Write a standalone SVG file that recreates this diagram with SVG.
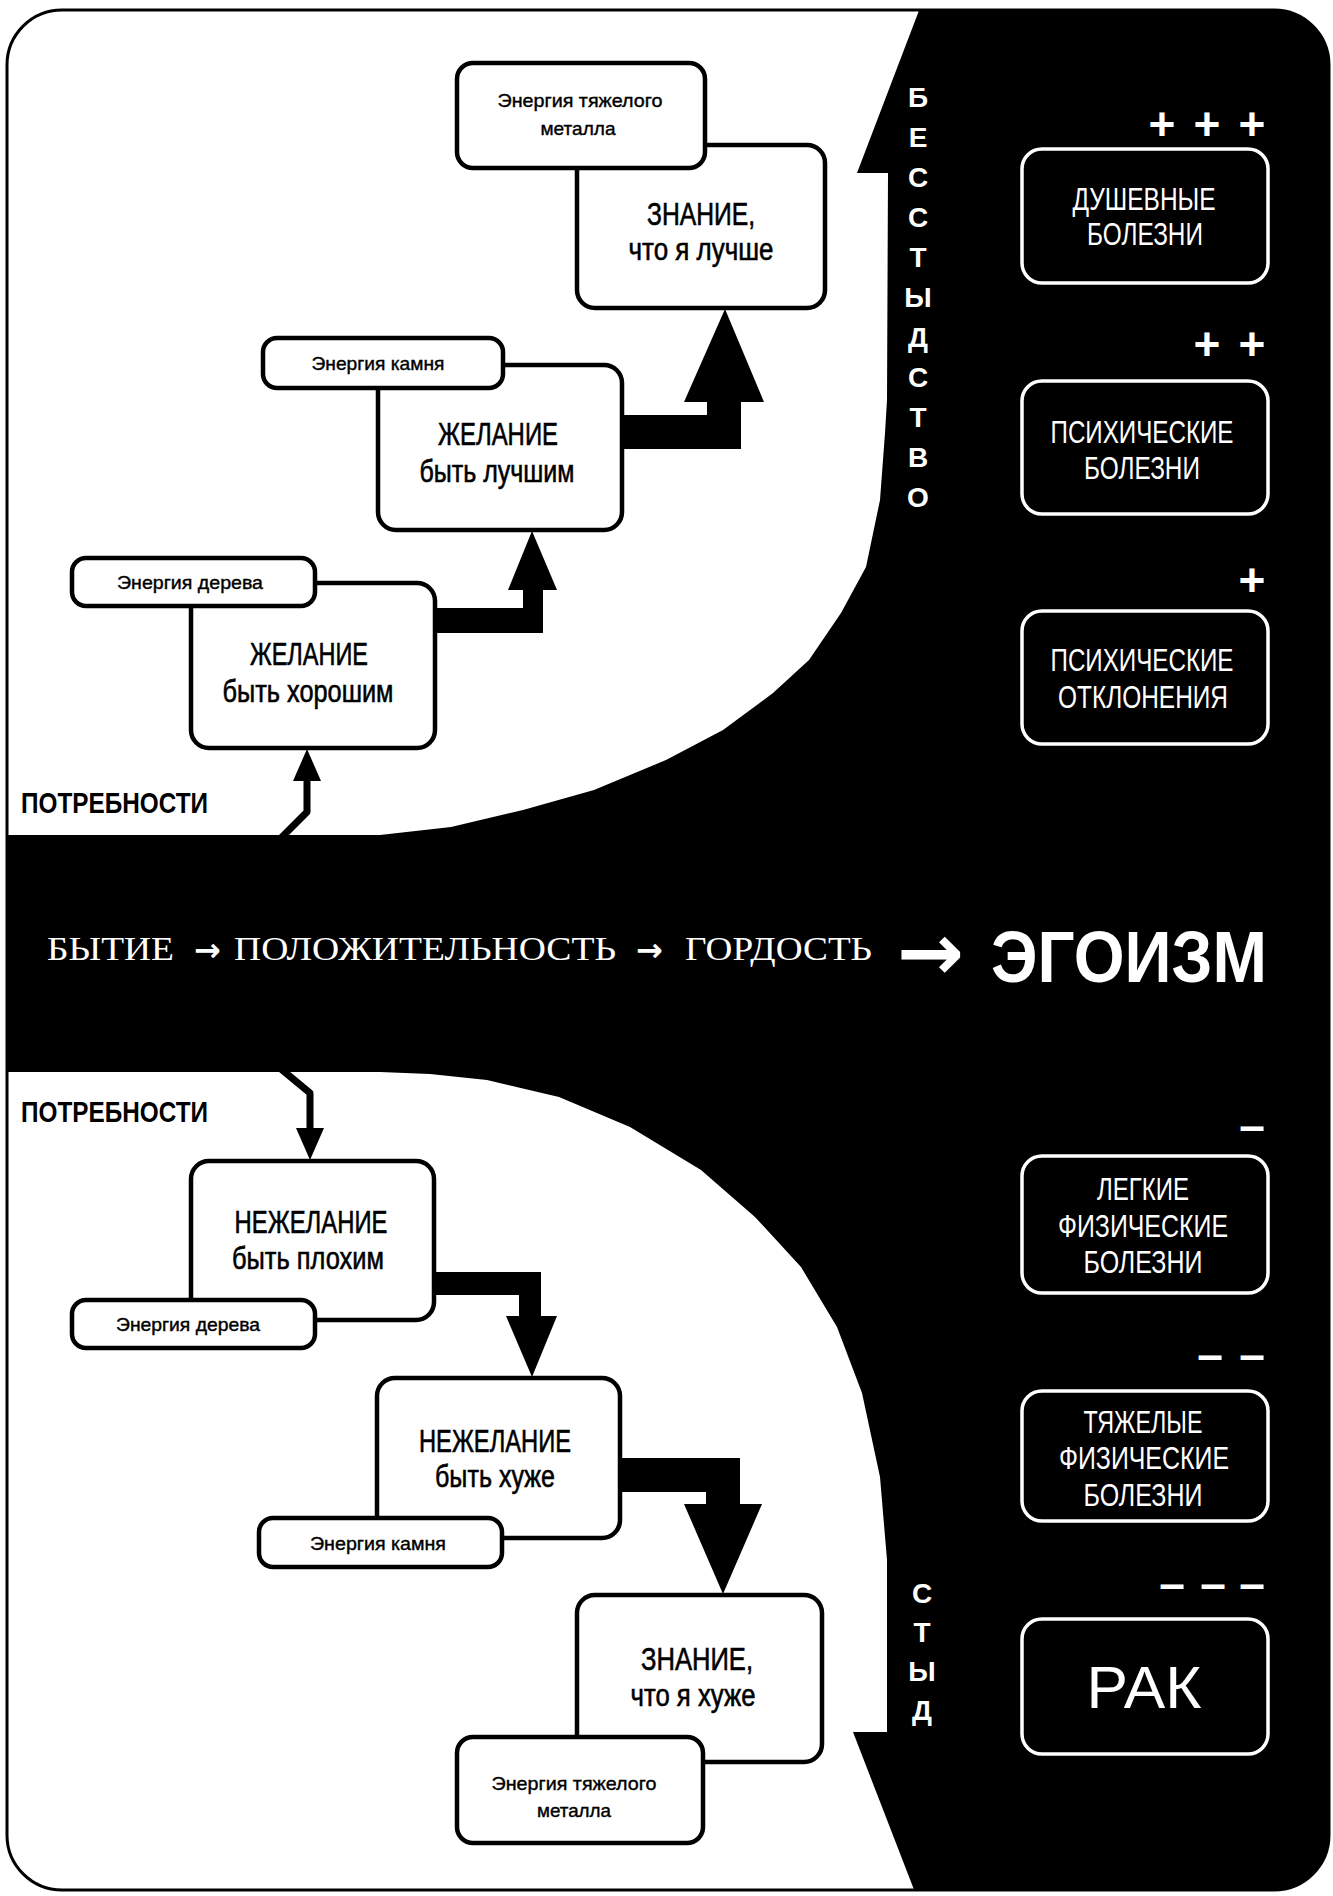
<svg xmlns="http://www.w3.org/2000/svg" width="1333" height="1896" viewBox="0 0 1333 1896">
<defs>
<clipPath id="frameClip"><rect x="7" y="10" width="1322" height="1880" rx="55"/></clipPath>
<style>
text{font-family:"Liberation Sans",Arial,sans-serif}
.box{fill:#fff;stroke:#000;stroke-width:4.5}
.dbox{fill:#000;stroke:#fff;stroke-width:3.5}
.bt{font-size:31px;text-anchor:middle;fill:#000;stroke:#000;stroke-width:0.6}
.sm{font-size:19px;text-anchor:middle;fill:#000;stroke:#000;stroke-width:0.4}
.wt{font-size:31px;text-anchor:middle;fill:#fff}
.vt{font-size:28px;font-weight:bold;text-anchor:middle;fill:#fff}
.lbl{font-size:30px;font-weight:bold;fill:#000}
.sign{font-size:46px;font-weight:bold;text-anchor:middle;fill:#fff}
.serif{font-family:"Liberation Serif","Times New Roman",serif;font-size:33px;fill:#fff}
.arr{font-family:"DejaVu Sans",sans-serif;fill:#fff;font-weight:bold}
.thick{fill:#000}
.thin{fill:none;stroke:#000;stroke-width:7;stroke-linejoin:round}
</style>
</defs>
<rect x="0" y="0" width="1333" height="1896" fill="#fff"/>
<g id="background">
<rect x="7" y="10" width="1322" height="1880" rx="55" fill="#fff"/>
<path clip-path="url(#frameClip)" fill="#000" d="M923,0 L1340,0 L1340,1900 L918,1900 L853,1732 L887,1732 L887,1560 L880,1477 L862,1393 L837,1327 L801,1267 L755,1217 L701,1170 L630,1127 L559,1097 L487,1080 L430,1074 L380,1072 L0,1072 L0,835 L380,835 L451,827 L523,810 L594,790 L666,760 L723,730 L773,693 L809,660 L841,613 L866,567 L880,500 L885,433 L887,400 L888,173 L857,173 Z"/>
<rect x="7" y="10" width="1322" height="1880" rx="55" fill="none" stroke="#000" stroke-width="3"/>
</g>

<g id="connectors">
<polygon class="thick" points="433,608 523,608 523,590 508,590 532,531 557,590 543,590 543,633 433,633"/>
<polygon class="thick" points="620,415 707,415 707,402 684,402 725,309 764,402 741,402 741,449 620,449"/>
<polygon class="thick" points="432,1272 541,1272 541,1316 557,1316 532,1377 506,1316 519,1316 519,1295 432,1295"/>
<polygon class="thick" points="618,1458 740,1458 740,1504 762,1504 723,1594 684,1504 706,1504 706,1492 618,1492"/>
<polyline class="thin" points="281,838 307,812 307,778"/>
<polygon class="thick" points="293,781 321,781 307,749"/>
<polyline class="thin" points="281,1069 310,1093 310,1130"/>
<polygon class="thick" points="296,1128 324,1128 310,1160"/>
</g>

<g id="n-znanie-luchshe">
<rect class="box" x="577" y="145" width="248" height="163" rx="18"/>
<text class="bt" x="701" y="225" textLength="108" lengthAdjust="spacingAndGlyphs">ЗНАНИЕ,</text>
<text class="bt" x="701" y="260" textLength="145" lengthAdjust="spacingAndGlyphs">что я лучше</text>
</g>
<g id="n-energy-metal-top">
<rect class="box" x="457" y="63" width="248" height="105" rx="16"/>
<text class="sm" x="580" y="107" textLength="165" lengthAdjust="spacingAndGlyphs">Энергия тяжелого</text>
<text class="sm" x="578" y="135" textLength="75" lengthAdjust="spacingAndGlyphs">металла</text>
</g>
<g id="n-zhelanie-luchshim">
<rect class="box" x="378" y="365" width="244" height="165" rx="18"/>
<text class="bt" x="498" y="445" textLength="120" lengthAdjust="spacingAndGlyphs">ЖЕЛАНИЕ</text>
<text class="bt" x="497" y="482" textLength="155" lengthAdjust="spacingAndGlyphs">быть лучшим</text>
</g>
<g id="n-energy-stone-top">
<rect class="box" x="263" y="338" width="240" height="50" rx="14"/>
<text class="sm" x="378" y="370" textLength="133" lengthAdjust="spacingAndGlyphs">Энергия камня</text>
</g>
<g id="n-zhelanie-horoshim">
<rect class="box" x="191" y="583" width="244" height="165" rx="18"/>
<text class="bt" x="309" y="665" textLength="118" lengthAdjust="spacingAndGlyphs">ЖЕЛАНИЕ</text>
<text class="bt" x="308" y="702" textLength="171" lengthAdjust="spacingAndGlyphs">быть хорошим</text>
</g>
<g id="n-energy-wood-top">
<rect class="box" x="72" y="558" width="243" height="48" rx="14"/>
<text class="sm" x="190" y="589" textLength="146" lengthAdjust="spacingAndGlyphs">Энергия дерева</text>
</g>

<g id="n-nezhelanie-plohim">
<rect class="box" x="191" y="1161" width="243" height="159" rx="18"/>
<text class="bt" x="311" y="1233" textLength="153" lengthAdjust="spacingAndGlyphs">НЕЖЕЛАНИЕ</text>
<text class="bt" x="308" y="1269" textLength="152" lengthAdjust="spacingAndGlyphs">быть плохим</text>
</g>
<g id="n-energy-wood-bottom">
<rect class="box" x="72" y="1300" width="243" height="48" rx="14"/>
<text class="sm" x="188" y="1331" textLength="144" lengthAdjust="spacingAndGlyphs">Энергия дерева</text>
</g>
<g id="n-nezhelanie-huzhe">
<rect class="box" x="377" y="1378" width="243" height="160" rx="18"/>
<text class="bt" x="495" y="1452" textLength="152" lengthAdjust="spacingAndGlyphs">НЕЖЕЛАНИЕ</text>
<text class="bt" x="495" y="1487" textLength="120" lengthAdjust="spacingAndGlyphs">быть хуже</text>
</g>
<g id="n-energy-stone-bottom">
<rect class="box" x="259" y="1518" width="243" height="49" rx="14"/>
<text class="sm" x="378" y="1550" textLength="136" lengthAdjust="spacingAndGlyphs">Энергия камня</text>
</g>
<g id="n-znanie-huzhe">
<rect class="box" x="577" y="1595" width="245" height="167" rx="18"/>
<text class="bt" x="697" y="1670" textLength="112" lengthAdjust="spacingAndGlyphs">ЗНАНИЕ,</text>
<text class="bt" x="693" y="1706" textLength="125" lengthAdjust="spacingAndGlyphs">что я хуже</text>
</g>
<g id="n-energy-metal-bottom">
<rect class="box" x="457" y="1737" width="246" height="106" rx="16"/>
<text class="sm" x="574" y="1790" textLength="165" lengthAdjust="spacingAndGlyphs">Энергия тяжелого</text>
<text class="sm" x="574" y="1817" textLength="74" lengthAdjust="spacingAndGlyphs">металла</text>
</g>

<g id="labels">
<text class="lbl" x="21" y="813" textLength="187" lengthAdjust="spacingAndGlyphs">ПОТРЕБНОСТИ</text>
<text class="lbl" x="21" y="1122" textLength="187" lengthAdjust="spacingAndGlyphs">ПОТРЕБНОСТИ</text>
</g>

<g id="n-besstydstvo">
<text class="vt" x="918" y="107">Б</text>
<text class="vt" x="918" y="147">Е</text>
<text class="vt" x="918" y="187">С</text>
<text class="vt" x="918" y="227">С</text>
<text class="vt" x="918" y="267">Т</text>
<text class="vt" x="918" y="307">Ы</text>
<text class="vt" x="918" y="347">Д</text>
<text class="vt" x="918" y="387">С</text>
<text class="vt" x="918" y="427">Т</text>
<text class="vt" x="918" y="467">В</text>
<text class="vt" x="918" y="507">О</text>
</g>
<g id="n-styd">
<text class="vt" x="922" y="1603">С</text>
<text class="vt" x="922" y="1642">Т</text>
<text class="vt" x="922" y="1681">Ы</text>
<text class="vt" x="922" y="1720">Д</text>
</g>

<g id="n-chain">
<text class="serif" x="47" y="960" textLength="127" lengthAdjust="spacingAndGlyphs">БЫТИЕ</text>
<text class="arr" x="194" y="961" font-size="32">→</text>
<text class="serif" x="234" y="960" textLength="382" lengthAdjust="spacingAndGlyphs">ПОЛОЖИТЕЛЬНОСТЬ</text>
<text class="arr" x="636" y="961" font-size="32">→</text>
<text class="serif" x="685" y="960" textLength="187" lengthAdjust="spacingAndGlyphs">ГОРДОСТЬ</text>
<text class="arr" x="897" y="980" font-size="80">→</text>
<text x="991" y="982" font-size="72" font-weight="bold" fill="#fff" textLength="276" lengthAdjust="spacingAndGlyphs">ЭГОИЗМ</text>
</g>

<g id="n-dushevnye">
<text class="sign" x="1162 1207 1252" y="140">+++</text>
<rect class="dbox" x="1022" y="149" width="246" height="134" rx="20"/>
<text class="wt" x="1144" y="210" textLength="143" lengthAdjust="spacingAndGlyphs">ДУШЕВНЫЕ</text>
<text class="wt" x="1145" y="245" textLength="116" lengthAdjust="spacingAndGlyphs">БОЛЕЗНИ</text>
</g>
<g id="n-psih-bolezni">
<text class="sign" x="1207 1252" y="360">++</text>
<rect class="dbox" x="1022" y="381" width="246" height="133" rx="20"/>
<text class="wt" x="1142" y="443" textLength="183" lengthAdjust="spacingAndGlyphs">ПСИХИЧЕСКИЕ</text>
<text class="wt" x="1142" y="479" textLength="116" lengthAdjust="spacingAndGlyphs">БОЛЕЗНИ</text>
</g>
<g id="n-psih-otkloneniya">
<text class="sign" x="1252" y="596">+</text>
<rect class="dbox" x="1022" y="611" width="246" height="133" rx="20"/>
<text class="wt" x="1142" y="671" textLength="183" lengthAdjust="spacingAndGlyphs">ПСИХИЧЕСКИЕ</text>
<text class="wt" x="1143" y="708" textLength="170" lengthAdjust="spacingAndGlyphs">ОТКЛОНЕНИЯ</text>
</g>
<g id="n-legkie">
<text class="sign" x="1252" y="1141">–</text>
<rect class="dbox" x="1022" y="1156" width="246" height="137" rx="20"/>
<text class="wt" x="1143" y="1200" textLength="92" lengthAdjust="spacingAndGlyphs">ЛЕГКИЕ</text>
<text class="wt" x="1143" y="1237" textLength="170" lengthAdjust="spacingAndGlyphs">ФИЗИЧЕСКИЕ</text>
<text class="wt" x="1143" y="1273" textLength="119" lengthAdjust="spacingAndGlyphs">БОЛЕЗНИ</text>
</g>
<g id="n-tyazhelye">
<text class="sign" x="1210 1252" y="1370">––</text>
<rect class="dbox" x="1022" y="1391" width="246" height="130" rx="20"/>
<text class="wt" x="1143" y="1433" textLength="119" lengthAdjust="spacingAndGlyphs">ТЯЖЕЛЫЕ</text>
<text class="wt" x="1144" y="1469" textLength="170" lengthAdjust="spacingAndGlyphs">ФИЗИЧЕСКИЕ</text>
<text class="wt" x="1143" y="1506" textLength="119" lengthAdjust="spacingAndGlyphs">БОЛЕЗНИ</text>
</g>
<g id="n-rak">
<text class="sign" x="1172 1213 1252" y="1599">–––</text>
<rect class="dbox" x="1022" y="1619" width="246" height="135" rx="20"/>
<text class="wt" x="1144" y="1708" style="font-size:60px" textLength="115" lengthAdjust="spacingAndGlyphs">РАК</text>
</g>
</svg>
